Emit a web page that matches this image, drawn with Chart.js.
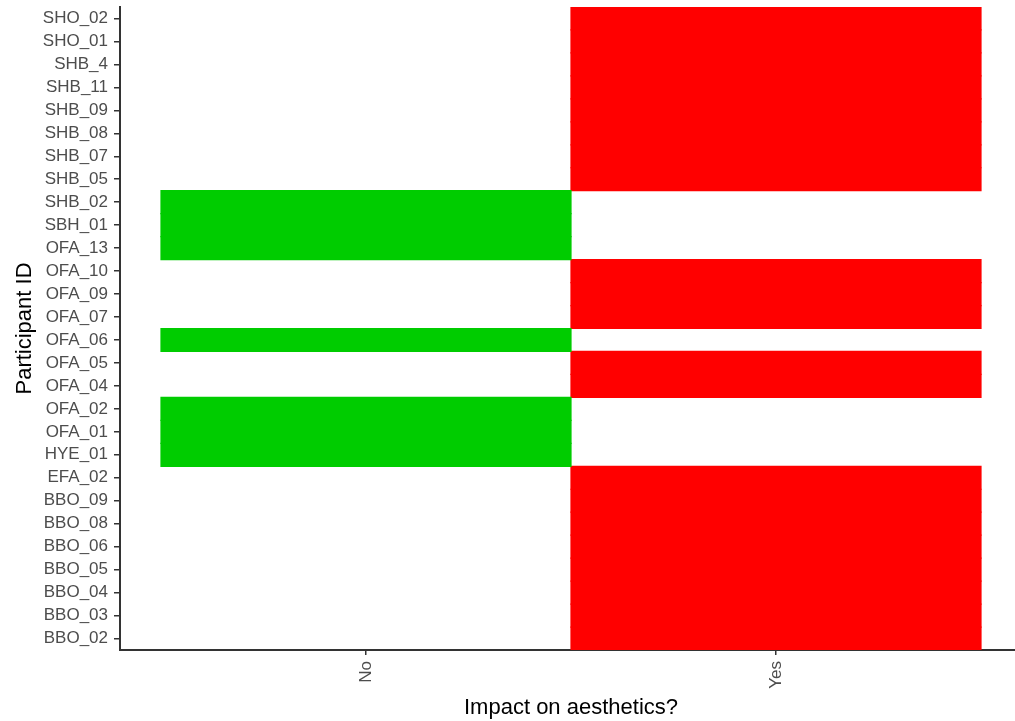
<!DOCTYPE html>
<html>
<head>
<meta charset="utf-8">
<script src="https://cdn.jsdelivr.net/npm/chart.js@4"></script>
<style>
  html, body { margin: 0; padding: 0; background: #fff; overflow: hidden; }
  #wrap { width: 1022px; height: 721px; position: relative; }
</style>
</head>
<body>
<div id="wrap"><canvas id="tiles"></canvas></div>
<script>
// participants, top to bottom as shown on the y axis
const participants = [
    'SHO_02', 'SHO_01', 'SHB_4', 'SHB_11', 'SHB_09', 'SHB_08', 'SHB_07', 'SHB_05',
    'SHB_02', 'SBH_01', 'OFA_13', 'OFA_10', 'OFA_09', 'OFA_07', 'OFA_06', 'OFA_05',
    'OFA_04', 'OFA_02', 'OFA_01', 'HYE_01', 'EFA_02', 'BBO_09', 'BBO_08', 'BBO_06',
    'BBO_05', 'BBO_04', 'BBO_03', 'BBO_02',
];

const impact = [
    'Yes', 'Yes', 'Yes', 'Yes', 'Yes', 'Yes', 'Yes', 'Yes',
    'No', 'No', 'No', 'Yes', 'Yes', 'Yes', 'No', 'Yes',
    'Yes', 'No', 'No', 'No', 'Yes', 'Yes', 'Yes', 'Yes',
    'Yes', 'Yes', 'Yes', 'Yes',
];

const answers = ['No', 'Yes'];
const tileColours = { No: '#00cc00', Yes: '#ff0000' };

const FONT = "'Liberation Sans', Arial, sans-serif";

// one floating bar per participant, spanning its answer's column
function tilesFor(answer) {
    const pos = answers.indexOf(answer) + 1;
    return impact.map(v => v === answer ? [pos - 0.5, pos + 0.5] : null);
}

const datasets = answers.map(a => ({
    label: a,
    data: tilesFor(a),
    backgroundColor: tileColours[a],
    borderColor: tileColours[a],
    borderWidth: 0,
    inflateAmount: 0.6, // hides the hairline seams between stacked tiles
    grouped: false,
    barPercentage: 1,
    categoryPercentage: 1,
}));

const config = {
    type: 'bar',
    data: { labels: participants, datasets: datasets },
    options: {
        indexAxis: 'y',
        responsive: true,
        maintainAspectRatio: false,
        animation: false,
        layout: { padding: { top: 0, right: 0, bottom: 0, left: 0 } },
        plugins: {
            legend: { display: false },
            tooltip: { enabled: false },
        },
        scales: {
            x: {
                type: 'linear',
                min: 0.4,
                max: 2.6,
                afterBuildTicks: (scale) => {
                    scale.ticks = answers.map((a, i) => ({ value: i + 1 }));
                },
                afterFit: (scale) => { scale.height = 71; },
                ticks: {
                    autoSkip: false,
                    minRotation: 90,
                    maxRotation: 90,
                    padding: 6,
                    color: '#4d4d4d',
                    font: { family: FONT, size: 17 },
                    callback: (v) => answers[Math.round(v) - 1],
                },
                grid: {
                    drawOnChartArea: false,
                    tickLength: 5,
                    color: '#333333',
                    lineWidth: 1.5,
                },
                border: { display: true, color: '#333333', width: 2 },
                title: {
                    display: true,
                    text: 'Impact on aesthetics?',
                    color: '#000000',
                    font: { family: FONT, size: 22 },
                    padding: { top: 2, bottom: 0 },
                },
            },
            y: {
                type: 'category',
                offset: true,
                afterFit: (scale) => {
                    scale.width = 120;
                    scale.paddingTop = 7;
                    scale.paddingBottom = 0;
                },
                ticks: {
                    autoSkip: false,
                    padding: 6,
                    color: '#4d4d4d',
                    font: { family: FONT, size: 17 },
                },
                grid: {
                    offset: false,
                    drawOnChartArea: false,
                    tickLength: 6,
                    color: '#333333',
                    lineWidth: 1.5,
                },
                border: { display: true, color: '#333333', width: 2 },
                title: {
                    display: true,
                    text: 'Participant ID',
                    color: '#000000',
                    font: { family: FONT, size: 22 },
                    padding: { top: 12, bottom: 0 },
                },
            },
        },
    },
};

const tileChart = new Chart(document.getElementById('tiles'), config);
</script>
</body>
</html>
